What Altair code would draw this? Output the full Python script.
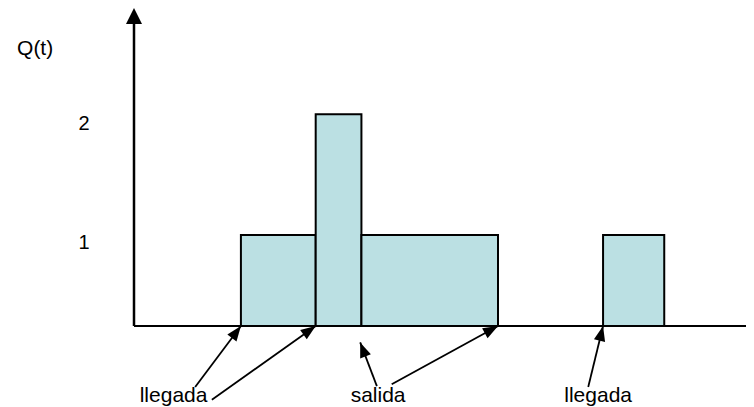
import math
import altair as alt
import pandas as pd

# ---- data ----
# step function Q(t): intervals and queue length
bar_start = [1.73, 2.94, 3.68, 7.59]
bar_end = [2.94, 3.68, 5.89, 8.58]
bar_q = [1, 2, 1, 1]

# y tick labels
tick_labels = ["1", "2"]
tick_t = [-0.81, -0.81]
tick_q = [0.85, 1.87]

# y title
ylabel = ["Q(t)"]
ylabel_t = [-1.60]
ylabel_q = [2.49]

# event labels under the axis
event_labels = ["llegada", "salida", "llegada"]
event_label_t = [0.64, 3.95, 7.51]
event_label_q = [-0.83, -0.83, -0.83]

# annotation arrows (tail -> tip)
arrow_tail_t = [0.99, 1.26, 3.93, 4.17, 7.35]
arrow_tail_q = [-0.67, -0.81, -0.66, -0.64, -0.67]
arrow_tip_t = [1.73, 2.94, 3.66, 5.89, 7.59]
arrow_tip_q = [0.0, 0.0, -0.18, 0.0, 0.0]

# axes extents
axis_t_max = 10.0
axis_q_arrow = 2.88

# ---- scales ----
X_DOMAIN = [0, 10]
X_RANGE = [126, 744]
Y_DOMAIN = [0, 1, 2]
Y_RANGE = [318, 227, 106.3]

xs = alt.Scale(domain=X_DOMAIN, range=X_RANGE, nice=False, zero=False)
ys = alt.Scale(domain=Y_DOMAIN, range=Y_RANGE, nice=False, zero=False)


def px(t):
    return X_RANGE[0] + (t - X_DOMAIN[0]) * (X_RANGE[1] - X_RANGE[0]) / (X_DOMAIN[1] - X_DOMAIN[0])


def py(q):
    if q <= 1:
        return Y_RANGE[0] + q * (Y_RANGE[1] - Y_RANGE[0])
    return Y_RANGE[1] + (q - 1) * (Y_RANGE[2] - Y_RANGE[1])


def angle(t0, q0, t1, q1):
    dx = px(t1) - px(t0)
    dy = py(q1) - py(q0)
    return math.degrees(math.atan2(dx, -dy)) % 360


FONT = "Liberation Sans"

bars_df = pd.DataFrame({"t0": bar_start, "t1": bar_end, "q": bar_q, "q0": [0] * len(bar_q)})
bars = alt.Chart(bars_df).mark_rect(
    fill="#bbe0e3", stroke="black", strokeWidth=2
).encode(
    x=alt.X("t0:Q", scale=xs, axis=None),
    x2="t1:Q",
    y=alt.Y("q:Q", scale=ys, axis=None),
    y2="q0:Q",
)

axes_df = pd.DataFrame({
    "t0": [0.0, 0.0], "q0": [0.0, 0.0],
    "t1": [axis_t_max, 0.0], "q1": [0.0, axis_q_arrow - 0.1],
    "w": [2.0, 2.5],
})
axes = alt.Chart(axes_df).mark_rule(color="black").encode(
    x=alt.X("t0:Q", scale=xs, axis=None),
    x2="t1:Q",
    y=alt.Y("q0:Q", scale=ys, axis=None),
    y2="q1:Q",
    strokeWidth=alt.StrokeWidth("w:Q", scale=None),
)

yhead_df = pd.DataFrame({"t": [0.0], "q": [axis_q_arrow], "a": [0.0]})
yhead = alt.Chart(yhead_df).mark_point(
    shape="M0,0L0.5,1L-0.5,1Z", size=1024, filled=True, color="black", opacity=1, strokeWidth=0
).encode(
    x=alt.X("t:Q", scale=xs, axis=None),
    y=alt.Y("q:Q", scale=ys, axis=None),
    angle=alt.Angle("a:Q", scale=None),
)

arr_df = pd.DataFrame({
    "t0": arrow_tail_t, "q0": arrow_tail_q,
    "t1": arrow_tip_t, "q1": arrow_tip_q,
})
arr_df["a"] = [angle(a, b, c, d) for a, b, c, d in zip(arrow_tail_t, arrow_tail_q, arrow_tip_t, arrow_tip_q)]

arrow_lines = alt.Chart(arr_df).mark_rule(color="black", strokeWidth=1.8).encode(
    x=alt.X("t0:Q", scale=xs, axis=None),
    x2="t1:Q",
    y=alt.Y("q0:Q", scale=ys, axis=None),
    y2="q1:Q",
)
arrow_heads = alt.Chart(arr_df).mark_point(
    shape="M0,0L0.38,1L-0.38,1Z", size=900, filled=True, color="black", opacity=1, strokeWidth=0
).encode(
    x=alt.X("t1:Q", scale=xs, axis=None),
    y=alt.Y("q1:Q", scale=ys, axis=None),
    angle=alt.Angle("a:Q", scale=None),
)

ticks_df = pd.DataFrame({"label": tick_labels, "t": tick_t, "q": tick_q})
ticks = alt.Chart(ticks_df).mark_text(
    font=FONT, fontSize=20, color="black", align="center", baseline="alphabetic"
).encode(
    x=alt.X("t:Q", scale=xs, axis=None),
    y=alt.Y("q:Q", scale=ys, axis=None),
    text="label:N",
)

ytitle_df = pd.DataFrame({"label": ylabel, "t": ylabel_t, "q": ylabel_q})
ytitle = alt.Chart(ytitle_df).mark_text(
    font=FONT, fontSize=21, color="black", align="center", baseline="alphabetic"
).encode(
    x=alt.X("t:Q", scale=xs, axis=None),
    y=alt.Y("q:Q", scale=ys, axis=None),
    text="label:N",
)

ev_df = pd.DataFrame({"label": event_labels, "t": event_label_t, "q": event_label_q})
events = alt.Chart(ev_df).mark_text(
    font=FONT, fontSize=21, color="black", align="center", baseline="alphabetic"
).encode(
    x=alt.X("t:Q", scale=xs, axis=None),
    y=alt.Y("q:Q", scale=ys, axis=None),
    text="label:N",
)

chart = alt.layer(
    bars, axes, yhead, arrow_lines, arrow_heads, ticks, ytitle, events
).properties(
    width=738, height=399, padding=0, autosize=alt.AutoSizeParams(type="none"),
    background="white",
).configure_view(stroke=None)

chart.save("out.html", embed_options={"renderer": "svg", "actions": False})
